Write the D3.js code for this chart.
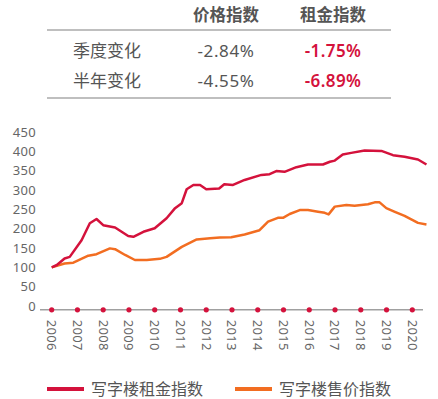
<!DOCTYPE html>
<html>
<head>
<meta charset="utf-8">
<script src="https://cdnjs.cloudflare.com/ajax/libs/d3/7.8.5/d3.min.js"></script>
<style>
  body { margin: 0; background: #fff; }
  svg { display: block; font-family: "Noto Sans", "Noto Sans CJK SC", sans-serif; }
</style>
</head>
<body>
<svg width="438" height="399"></svg>
<script>
// table
var tableHeaders = ["价格指数", "租金指数"];
var rowLabels = ["季度变化", "半年变化"];
var priceChange = ["-2.84%", "-4.55%"];
var rentChange = ["-1.75%", "-6.89%"];

// series (decimal year, index value)
var rentDates = [2006.0, 2006.2, 2006.5, 2006.7, 2007.16, 2007.48, 2007.74, 2008.0, 2008.46, 2008.97, 2009.17, 2009.56, 2010.0, 2010.46, 2010.79, 2011.05, 2011.24, 2011.5, 2011.76, 2012.0, 2012.5, 2012.7, 2013.04, 2013.49, 2014.14, 2014.46, 2014.72, 2015.04, 2015.5, 2015.95, 2016.53, 2016.8, 2016.99, 2017.3, 2017.63, 2018.15, 2018.8, 2019.25, 2019.7, 2020.22, 2020.55];
var rentValues = [100, 106, 123, 127, 170, 214, 225, 209, 203, 181, 179, 192, 201, 227, 253, 266, 302, 313, 313, 302, 304, 315, 313, 326, 339, 341, 349, 347, 359, 366, 366, 373, 376, 392, 396, 402, 401, 390, 386, 379, 366];

var priceDates = [2006.0, 2006.5, 2006.84, 2007.42, 2007.74, 2008.26, 2008.46, 2008.85, 2009.23, 2009.69, 2010.2, 2010.46, 2011.05, 2011.63, 2012.15, 2012.53, 2012.97, 2013.49, 2014.07, 2014.4, 2014.78, 2014.98, 2015.24, 2015.63, 2015.95, 2016.34, 2016.6, 2016.75, 2016.99, 2017.44, 2017.76, 2018.28, 2018.54, 2018.73, 2018.99, 2019.3, 2019.7, 2020.22, 2020.55];
var priceValues = [100, 110, 112, 130, 134, 149, 147, 132, 119, 119, 122, 127, 153, 172, 175, 177, 178, 185, 196, 218, 228, 228, 238, 248, 248, 244, 241, 237, 257, 261, 259, 263, 268, 268, 253, 244, 233, 215, 211];

var yTicks = [0, 50, 100, 150, 200, 250, 300, 350, 400, 450];
var years = d3.range(2006, 2021);
var seriesNames = ["写字楼租金指数", "写字楼售价指数"];

var red = "#d4123c", orange = "#f26d21", textGray = "#555", axisGray = "#a0a0a0";

var svg = d3.select("svg");

// ---- table ----
var colX = [226, 333];
svg.selectAll(".th").data(tableHeaders).enter().append("text")
  .attr("x", function (d, i) { return colX[i]; })
  .attr("y", 15).attr("dy", "0.35em")
  .attr("text-anchor", "middle")
  .attr("font-size", 16.5).attr("font-weight", "bold")
  .attr("fill", textGray)
  .text(function (d) { return d; });

[30, 98].forEach(function (yy) {
  svg.append("line").attr("x1", 47).attr("x2", 391).attr("y1", yy).attr("y2", yy)
    .attr("stroke", "#aaa").attr("stroke-width", 1.5);
});

var rowY = [51, 81];
rowLabels.forEach(function (lab, i) {
  svg.append("text").attr("x", 73).attr("y", rowY[i]).attr("dy", "0.35em")
    .attr("font-size", 17).attr("fill", textGray).text(lab);
  svg.append("text").attr("x", colX[0]).attr("y", rowY[i]).attr("dy", "0.35em")
    .attr("text-anchor", "middle").attr("font-size", 17).attr("letter-spacing", 0.6)
    .attr("fill", textGray).text(priceChange[i]);
  svg.append("text").attr("x", colX[1]).attr("y", rowY[i]).attr("dy", "0.35em")
    .attr("text-anchor", "middle").attr("font-size", 17).attr("letter-spacing", 0.4)
    .attr("font-weight", 600).attr("fill", red).text(rentChange[i]);
});

// ---- chart ----
var x = d3.scaleLinear().domain([2006, 2020]).range([51.7, 412.3]);
var y = d3.scaleLinear().domain([0, 450]).range([306, 132]);

// y labels
svg.append("g").selectAll("text").data(yTicks).enter().append("text")
  .attr("x", 36).attr("y", function (d) { return y(d); }).attr("dy", "0.35em")
  .attr("text-anchor", "end").attr("font-size", 13).attr("letter-spacing", 0.3)
  .attr("fill", "#666")
  .text(function (d) { return d; });

// baseline
var baseY = y(-10);
svg.append("line").attr("x1", 40).attr("x2", 423).attr("y1", baseY).attr("y2", baseY)
  .attr("stroke", axisGray).attr("stroke-width", 1.5);

svg.append("g").selectAll("circle").data(years).enter().append("circle")
  .attr("cx", function (d) { return x(d); }).attr("cy", baseY).attr("r", 2.6)
  .attr("fill", red);

svg.append("g").selectAll("text").data(years).enter().append("text")
  .attr("transform", function (d) { return "translate(" + x(d) + "," + (baseY + 10) + ") rotate(90)"; })
  .attr("dy", "0.35em").attr("font-size", 13).attr("letter-spacing", 0.3).attr("fill", "#666")
  .text(function (d) { return d; });

var line = d3.line().x(function (d) { return x(d[0]); }).y(function (d) { return y(d[1]); });

svg.append("path").datum(d3.zip(priceDates, priceValues))
  .attr("d", line).attr("fill", "none").attr("stroke", orange).attr("stroke-width", 2.5)
  .attr("stroke-linejoin", "round");
svg.append("path").datum(d3.zip(rentDates, rentValues))
  .attr("d", line).attr("fill", "none").attr("stroke", red).attr("stroke-width", 2.5)
  .attr("stroke-linejoin", "round");

// legend
var legX = [47, 235], legColors = [red, orange];
seriesNames.forEach(function (n, i) {
  svg.append("line").attr("x1", legX[i]).attr("x2", legX[i] + 37).attr("y1", 389).attr("y2", 389)
    .attr("stroke", legColors[i]).attr("stroke-width", 4);
  svg.append("text").attr("x", legX[i] + 44).attr("y", 389).attr("dy", "0.35em")
    .attr("font-size", 16).attr("fill", textGray).text(n);
});
</script>
</body>
</html>
